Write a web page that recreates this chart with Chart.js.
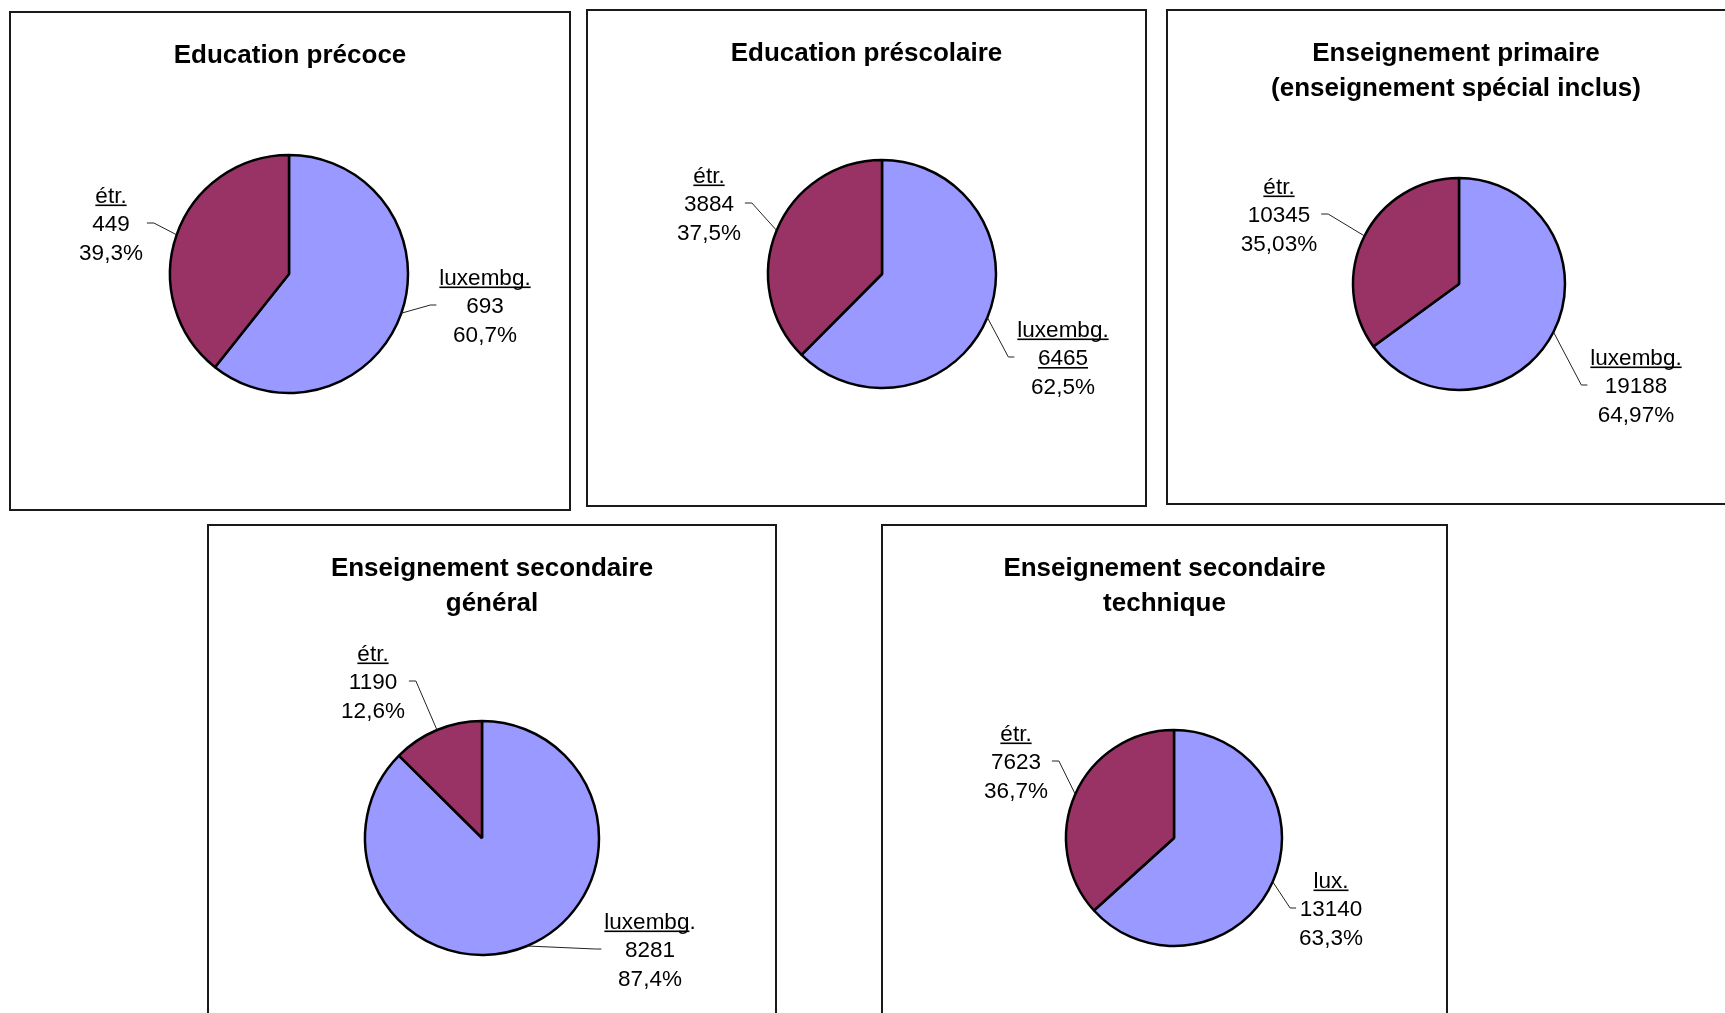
<!DOCTYPE html>
<html>
<head>
<meta charset="utf-8">
<script src="https://cdn.jsdelivr.net/npm/chart.js@4"></script>
<style>
  html, body { margin: 0; padding: 0; background: #fff; }
  body { width: 1725px; height: 1013px; overflow: hidden; position: relative; }
  .panel { position: absolute; box-sizing: border-box; border: 2px solid #1a1a1a; background: #fff; }
  canvas { position: absolute; }
</style>
</head>
<body>
<script>
// Données
var titles = [
    ['Education précoce'],
    ['Education préscolaire'],
    ['Enseignement primaire', '(enseignement spécial inclus)'],
    ['Enseignement secondaire', 'général'],
    ['Enseignement secondaire', 'technique']
];
var luxNames = ['luxembg.', 'luxembg.', 'luxembg.', 'luxembg.', 'lux.'];
var etrNames = ['étr.', 'étr.', 'étr.', 'étr.', 'étr.'];
var luxValues = [693, 6465, 19188, 8281, 13140];
var etrValues = [449, 3884, 10345, 1190, 7623];
var pctDecimals = [1, 1, 2, 1, 1];

var colors = ['#9999FF', '#993366'];

// Mise en page (coordonnées de la page)
var panels = [
    {x: 9,    y: 11,  w: 562, h: 500},
    {x: 586,  y: 9,   w: 561, h: 498},
    {x: 1166, y: 9,   w: 580, h: 496},
    {x: 207,  y: 524, w: 570, h: 520},
    {x: 881,  y: 524, w: 567, h: 520}
];
var pies = [
    {cx: 289,  cy: 274, r: 119},
    {cx: 882,  cy: 274, r: 114},
    {cx: 1459, cy: 284, r: 106},
    {cx: 482,  cy: 838, r: 117},
    {cx: 1174, cy: 838, r: 108}
];
var titleY = [[55], [53], [53, 88], [568, 603], [568, 603]];
// blocs d'étiquettes : centre x, ligne du milieu y
var luxLabelPos = [
    {x: 485, y: 305}, {x: 1063, y: 357}, {x: 1636, y: 385}, {x: 650, y: 949}, {x: 1331, y: 908}
];
var etrLabelPos = [
    {x: 111, y: 223}, {x: 709, y: 203}, {x: 1279, y: 214}, {x: 373, y: 681}, {x: 1016, y: 761}
];
var lineH = 28.5;
var labelFont = '22.5px "Liberation Sans", Arial, sans-serif';
var titleFont = 'bold 26px "Liberation Sans", Arial, sans-serif';

function fmtPct(v, total, dec) {
    return (v / total * 100).toFixed(dec).replace('.', ',') + '%';
}

function drawLabel(ctx, lines, pos, underl, side, arcPt) {
    ctx.font = labelFont;
    ctx.fillStyle = '#000';
    ctx.textAlign = 'center';
    ctx.textBaseline = 'alphabetic';
    var blockW = 0;
    lines.forEach(function(t) { blockW = Math.max(blockW, ctx.measureText(t).width); });
    lines.forEach(function(t, i) {
        var yc = pos.y + (i - 1) * lineH;
        var base = yc + 8;
        ctx.fillText(t, pos.x, base);
        if (underl[i]) {
            var uText = underl[i] === true ? t : underl[i];
            var fullW = ctx.measureText(t).width;
            var uw = ctx.measureText(uText).width;
            var x0 = pos.x - fullW / 2;
            ctx.fillRect(x0, base + 2, uw, 1.6);
        }
    });
    // ligne de rappel
    var p0x = side === 'left' ? pos.x - blockW / 2 - 3 : pos.x + blockW / 2 + 4;
    var p1x = side === 'left' ? p0x - 6 : p0x + 7;
    ctx.beginPath();
    ctx.strokeStyle = '#222';
    ctx.lineWidth = 1;
    ctx.moveTo(p0x, pos.y);
    ctx.lineTo(p1x, pos.y);
    ctx.lineTo(arcPt.x, arcPt.y);
    ctx.stroke();
}

var textPlugin = {
    id: 'panelText',
    afterDraw: function(chart) {
        var k = chart.options.plugins.panelText.idx;
        var ox = panels[k].x, oy = panels[k].y;
        var ctx = chart.ctx;
        ctx.save();
        // titre
        ctx.font = titleFont;
        ctx.fillStyle = '#000';
        ctx.textAlign = 'center';
        ctx.textBaseline = 'middle';
        titles[k].forEach(function(t, i) {
            ctx.fillText(t, panels[k].w / 2, titleY[k][i] - oy + 1);
        });
        var total = luxValues[k] + etrValues[k];
        var arcs = chart.getDatasetMeta(0).data;
        function midPt(a) {
            var m = (a.startAngle + a.endAngle) / 2;
            return {x: a.x + Math.cos(m) * a.outerRadius, y: a.y + Math.sin(m) * a.outerRadius};
        }
        var luxUnder = [k === 3 ? 'luxembg' : true, k === 1, false];
        drawLabel(ctx, [luxNames[k], String(luxValues[k]), fmtPct(luxValues[k], total, pctDecimals[k])],
            {x: luxLabelPos[k].x - ox, y: luxLabelPos[k].y - oy}, luxUnder, 'left', midPt(arcs[0]));
        drawLabel(ctx, [etrNames[k], String(etrValues[k]), fmtPct(etrValues[k], total, pctDecimals[k])],
            {x: etrLabelPos[k].x - ox, y: etrLabelPos[k].y - oy}, [true, false, false], 'right', midPt(arcs[1]));
        ctx.restore();
    }
};

for (var k = 0; k < 5; k++) {
    var p = panels[k];
    var div = document.createElement('div');
    div.className = 'panel';
    div.style.left = p.x + 'px';
    div.style.top = p.y + 'px';
    div.style.width = p.w + 'px';
    div.style.height = p.h + 'px';
    document.body.appendChild(div);

    var cv = document.createElement('canvas');
    cv.width = p.w;
    cv.height = p.h;
    cv.style.left = p.x + 'px';
    cv.style.top = p.y + 'px';
    document.body.appendChild(cv);

    var cx = pies[k].cx - p.x, cy = pies[k].cy - p.y;
    var padL = Math.max(0, 2 * cx - p.w), padR = Math.max(0, p.w - 2 * cx);
    var padT = Math.max(0, 2 * cy - p.h), padB = Math.max(0, p.h - 2 * cy);

    new Chart(cv, {
        type: 'pie',
        data: {
            labels: [luxNames[k], etrNames[k]],
            datasets: [{
                data: [luxValues[k], etrValues[k]],
                backgroundColor: colors,
                borderColor: '#000',
                borderWidth: 2.5
            }]
        },
        options: {
            responsive: false,
            animation: false,
            radius: pies[k].r,
            layout: {padding: {left: padL, right: padR, top: padT, bottom: padB}},
            plugins: {
                legend: {display: false},
                tooltip: {enabled: false},
                panelText: {idx: k}
            }
        },
        plugins: [textPlugin]
    });
}
</script>
</body>
</html>
